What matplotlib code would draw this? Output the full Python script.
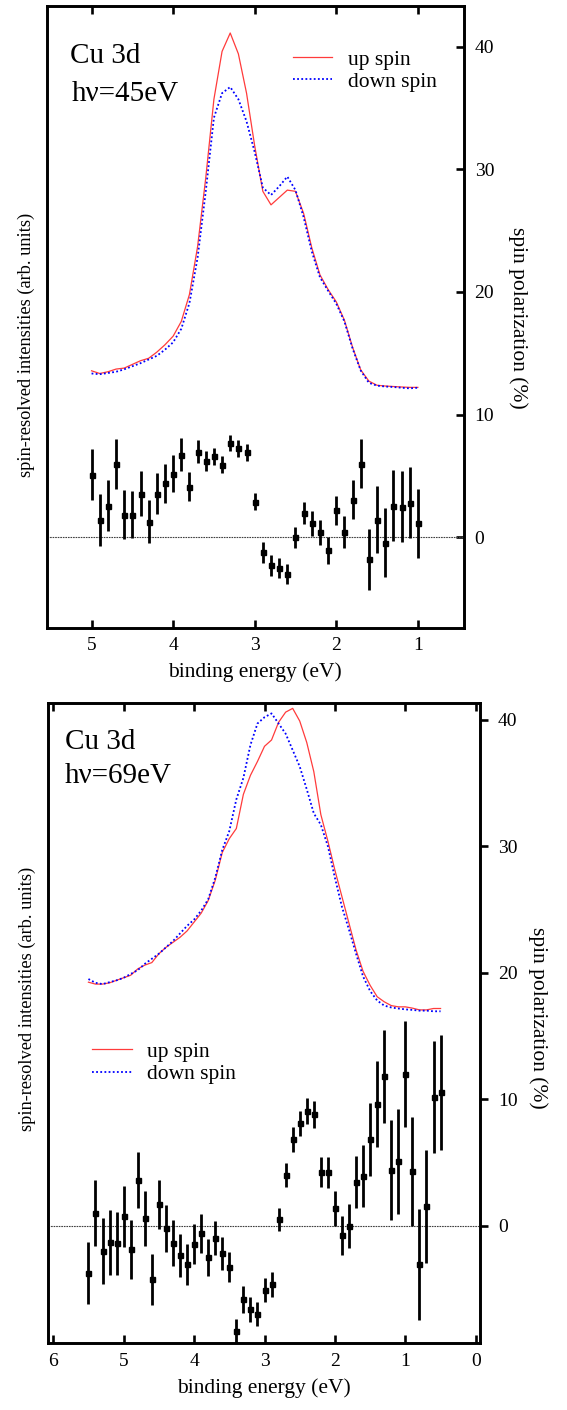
import matplotlib
matplotlib.use("Agg")
import matplotlib.pyplot as plt
from matplotlib.ticker import FixedLocator

plt.rcParams['font.family'] = ['Liberation Serif', 'DejaVu Serif']
plt.rcParams['mathtext.fontset'] = 'stix'

# ---------------- top panel (hv = 45 eV) ----------------
e45 = [5.0, 4.9, 4.8, 4.7, 4.6, 4.5, 4.4, 4.3, 4.2, 4.1, 4.0, 3.9, 3.8, 3.7, 3.6, 3.5,
       3.4, 3.3, 3.2, 3.1, 3.0, 2.9, 2.8, 2.7, 2.6, 2.5, 2.4, 2.3, 2.2, 2.1, 2.0, 1.9,
       1.8, 1.7, 1.6, 1.5, 1.4, 1.3, 1.2, 1.1, 1.0]
up45 = [13.58, 13.36, 13.5, 13.72, 13.8, 14.1, 14.4, 14.6, 15.1, 15.7, 16.4, 17.6, 19.8,
        23.7, 29.3, 35.7, 39.6, 41.1, 39.4, 36.2, 31.9, 28.2, 27.1, 27.7, 28.3, 28.2,
        26.4, 23.6, 21.4, 20.2, 19.2, 17.7, 15.5, 13.65, 12.74, 12.4, 12.34, 12.3,
        12.26, 12.23, 12.23]
down45 = [13.36, 13.3, 13.4, 13.5, 13.7, 13.95, 14.2, 14.5, 14.8, 15.3, 15.9, 17.0, 19.1,
          22.8, 28.2, 34.2, 36.2, 36.7, 35.7, 33.9, 31.4, 28.5, 27.9, 28.6, 29.4, 28.3,
          26.1, 23.3, 21.2, 20.1, 19.05, 17.6, 15.4, 13.6, 12.6, 12.37, 12.3, 12.26,
          12.2, 12.15, 12.2]
pol45 = [5.12, 1.41, 2.60, 5.96, 1.87, 1.87, 3.58, 1.30, 3.58, 4.42, 5.20, 6.75, 4.15,
         6.99, 6.21, 6.61, 5.93, 7.72, 7.26, 6.94, 2.93, -1.22, -2.28, -2.49, -2.98, 0.0,
         1.98, 1.14, 0.41, -1.06, 2.20, 0.41, 3.09, 6.02, -1.79, 1.46, -0.41, 2.60, 2.52,
         2.85, 1.14]
err45 = [2.10, 2.14, 2.06, 2.05, 2.00, 1.95, 1.86, 1.79, 1.67, 1.59, 1.49, 1.33, 1.17,
         0.95, 0.80, 0.72, 0.68, 0.64, 0.68, 0.68, 0.70, 0.84, 0.85, 0.84, 0.80, 0.84,
         0.89, 0.98, 1.04, 1.07, 1.22, 1.30, 1.57, 2.02, 2.47, 2.71, 2.79, 2.87, 2.89,
         2.87, 2.85]

# ---------------- bottom panel (hv = 69 eV) ----------------
e69 = [5.5, 5.4, 5.3, 5.2, 5.1, 5.0, 4.9, 4.8, 4.7, 4.6, 4.5, 4.4, 4.3, 4.2, 4.1, 4.0,
       3.9, 3.8, 3.7, 3.6, 3.5, 3.4, 3.3, 3.2, 3.1, 3.0, 2.9, 2.8, 2.7, 2.6, 2.5, 2.4,
       2.3, 2.2, 2.1, 2.0, 1.9, 1.8, 1.7, 1.6, 1.5, 1.4, 1.3, 1.2, 1.1, 1.0, 0.9, 0.8,
       0.7, 0.6, 0.5]
up69 = [19.25, 19.1, 19.1, 19.2, 19.4, 19.6, 19.8, 20.3, 20.6, 20.8, 21.5, 22.0, 22.4,
        22.8, 23.3, 24.0, 24.7, 25.7, 27.3, 29.5, 30.6, 31.4, 34.1, 35.6, 36.7, 37.9,
        38.4, 39.8, 40.6, 40.9, 39.9, 38.2, 35.9, 32.5, 30.4, 28.1, 26.0, 23.9, 21.8,
        20.1, 19.0, 18.1, 17.7, 17.4, 17.3, 17.3, 17.2, 17.06, 17.06, 17.17, 17.17]
down69 = [19.5, 19.2, 19.1, 19.25, 19.4, 19.6, 19.9, 20.2, 20.7, 21.1, 21.5, 22.0, 22.5,
          23.1, 23.7, 24.2, 24.9, 25.8, 27.5, 29.7, 31.2, 33.7, 35.4, 38.0, 39.7, 40.2,
          40.5, 39.7, 38.9, 37.6, 36.3, 34.5, 32.6, 31.7, 30.0, 27.5, 25.2, 23.4, 21.5,
          19.7, 18.55, 17.8, 17.4, 17.25, 17.17, 17.1, 17.06, 17.0, 17.0, 16.95, 16.95]
pol69 = [-3.77, 0.98, -2.0, -1.32, -1.40, 0.74, -1.87, 3.59, 0.58, -4.25, 1.69, -0.21,
         -1.40, -2.35, -3.06, -1.48, -0.61, -2.5, -1.0, -2.19, -3.3, -8.36, -5.83, -6.62,
         -7.01, -5.12, -4.64, 0.50, 4.0, 6.83, 8.1, 9.07, 8.81, 4.22, 4.22, 1.37, -0.76,
         -0.05, 3.43, 3.90, 6.83, 9.6, 11.8, 4.4, 5.09, 11.97, 4.3, -3.06, 1.53, 10.15,
         10.55]
err69 = [2.45, 2.62, 2.61, 2.57, 2.48, 2.43, 2.32, 2.23, 2.15, 2.03, 1.96, 1.87, 1.81,
         1.70, 1.62, 1.58, 1.56, 1.44, 1.34, 1.28, 1.19, 1.0, 1.04, 1.0, 0.95, 0.95, 0.96,
         0.91, 0.98, 0.99, 0.99, 1.0, 1.05, 1.17, 1.21, 1.37, 1.53, 1.73, 2.04, 2.44, 2.9,
         3.39, 3.69, 3.93, 4.13, 4.19, 4.29, 4.36, 4.46, 4.42, 4.55]

xticks45 = [5, 4, 3, 2, 1]
xticks69 = [6, 5, 4, 3, 2, 1, 0]
yticks = [0, 10, 20, 30, 40]

W, H = 567, 1410
fig = plt.figure(figsize=(W / 100, H / 100), dpi=100)


def px_axes(l, r, t, b):
    return fig.add_axes([l / W, 1 - b / H, (r - l) / W, (b - t) / H])


RED = '#ff3b3b'
BLUE = '#0000ff'
SPW = 1.9


def panel(ax, energies, up, down, pol, err, xlim, ylim, xticks, rtick_dir,
          t1, t2, tpos, legpos, lab_left_y, lab_right):
    ax2 = ax.twinx()
    ax.set_xlim(*xlim)
    ax.set_ylim(*ylim)
    ax2.set_ylim(*ylim)
    ax.plot(energies[0], up, color=RED, lw=0.9, label='up spin')
    ax.plot(energies[0], down, color=BLUE, lw=1.3, ls=(0, (1.0, 1.3)), label='down spin')
    ax2.axhline(0, color='0.25', lw=0.8, ls=(0, (1.5, 0.8)))
    ax2.errorbar(energies[1], pol, yerr=err, fmt='s', ms=3.6, color='black',
                 ecolor='black', elinewidth=2.0, capsize=0)
    for a in (ax, ax2):
        for s in a.spines.values():
            s.set_linewidth(SPW)
    ax.xaxis.set_major_locator(FixedLocator(xticks))
    ax.tick_params(axis='x', which='both', direction='in', top=True, bottom=True,
                   length=6, width=SPW, labelsize=14, pad=7)
    ax.tick_params(axis='y', left=False, labelleft=False)
    ax2.yaxis.set_major_locator(FixedLocator(yticks))
    ax2.tick_params(axis='y', direction=rtick_dir, length=6, width=SPW, labelsize=14,
                    pad=8 if rtick_dir == 'in' else 7)
    ax.set_xlabel('binding energy (eV)', fontsize=15.5, labelpad=6)
    ax.set_ylabel('spin-resolved intensities (arb. units)', fontsize=13.2)
    ax.yaxis.set_label_coords(-0.028, lab_left_y)
    ax2.set_ylabel('spin polarization (%)', fontsize=15.5, rotation=-90)
    ax2.yaxis.set_label_coords(*lab_right)
    ax.text(tpos[0], tpos[1], t1, transform=ax.transAxes, fontsize=21,
            ha='left', va='baseline')
    ax.text(tpos[2], tpos[3], t2, transform=ax.transAxes, fontsize=21,
            ha='left', va='baseline')
    ax.legend(loc='upper left', bbox_to_anchor=legpos, frameon=False, fontsize=15.5,
              handlelength=1.85, handletextpad=0.7, labelspacing=0.1, borderpad=0,
              borderaxespad=0)
    return ax2


ax_top = px_axes(46.7, 463.5, 6, 627.7)
panel(ax_top, (e45, e45), up45, down45, pol45, err45, (5.55, 0.44), (-7.35, 43.3),
      xticks45, 'in', 'Cu 3d', 'hν=45eV', (0.056, 0.908, 0.0605, 0.847),
      (0.59, 0.93), 0.455, (1.155, 0.498))

ax_bot = px_axes(48.3, 480, 703.3, 1343.3)
panel(ax_bot, (e69, e69), up69, down69, pol69, err69, (6.07, -0.06), (-9.3, 41.3),
      xticks69, 'out', 'Cu 3d', 'hν=69eV', (0.0387, 0.9286, 0.0387, 0.8755),
      (0.1005, 0.471), 0.538, (1.1575, 0.508))

fig.savefig('out.png', dpi=100)
